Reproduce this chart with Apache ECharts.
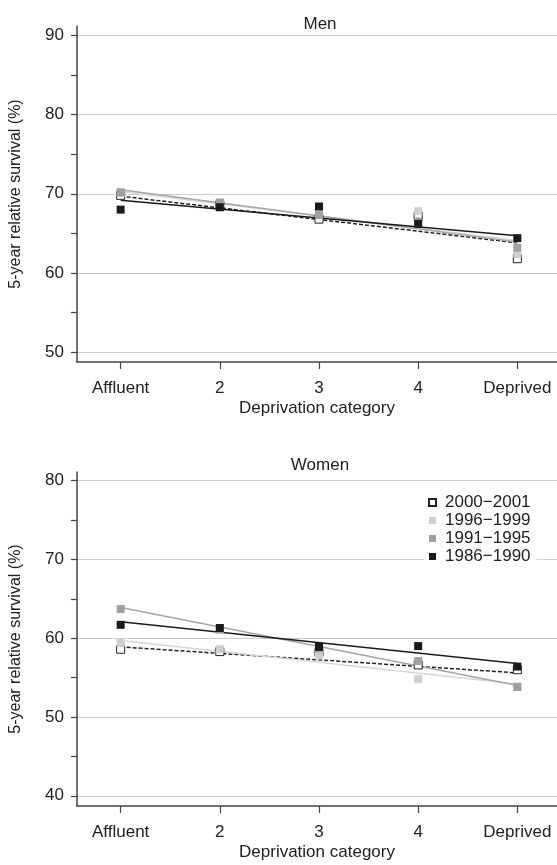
<!DOCTYPE html>
<html><head><meta charset="utf-8">
<script src="https://cdn.jsdelivr.net/npm/echarts@6/dist/echarts.min.js"></script>
<style>html,body{margin:0;padding:0;background:#fff}#c{width:557px;height:865px}</style>
</head><body><div id="c"></div>
<script>
// ---- data ----
const categories = ['Affluent', '2', '3', '4', 'Deprived'];
const categoryPos = [1, 2, 3, 4, 5];
const periods = ['2000\u22122001', '1996\u22121999', '1991\u22121995', '1986\u22121990'];
const yTicksMen = [50, 60, 70, 80, 90];
const yMinorMen = [55, 65, 75, 85];
const yTicksWomen = [40, 50, 60, 70, 80];
const yMinorWomen = [45, 55, 65, 75];

// Men: 5-year relative survival (%) by deprivation category
const men2000 = [69.8, 68.6, 66.8, 67.2, 61.8];
const men1996 = [70.1, 68.8, 67.7, 67.8, 62.4];
const men1991 = [70.2, 68.9, 67.3, 66.5, 63.2];
const men1986 = [68.0, 68.3, 68.4, 66.2, 64.4];
// Men fitted trend lines [Affluent, Deprived]
const menTrend2000 = [69.7, 63.8];
const menTrend1996 = [70.3, 64.1];
const menTrend1991 = [70.5, 63.9];
const menTrend1986 = [69.2, 64.7];

// Women
const women2000 = [58.6, 58.3, 58.2, 56.6, 56.0];
const women1996 = [59.4, 58.6, 57.8, 54.8, 53.9];
const women1991 = [63.7, 61.1, 58.7, 57.1, 53.8];
const women1986 = [61.7, 61.3, 58.9, 59.0, 56.4];
// Women fitted trend lines [Affluent, Deprived]
const womenTrend2000 = [58.9, 55.6];
const womenTrend1996 = [59.7, 54.2];
const womenTrend1991 = [63.9, 54.0];
const womenTrend1986 = [62.1, 56.8];

// ---- styles ----
const TXT = '#222';
const AX = '#444';
const FONT = 'Liberation Sans, Arial, sans-serif';
const styles = [
  { fill: '#ffffff', border: '#222', bw: 1, line: '#222', type: [4, 2] },
  { fill: '#cfcfcf', border: '#cfcfcf', bw: 0, line: '#d6d6d6', type: 'solid' },
  { fill: '#a0a0a0', border: '#a0a0a0', bw: 0, line: '#a6a6a6', type: 'solid' },
  { fill: '#1a1a1a', border: '#1a1a1a', bw: 0, line: '#1a1a1a', type: 'solid' }
];

const menData = [men2000, men1996, men1991, men1986];
const menTrends = [menTrend2000, menTrend1996, menTrend1991, menTrend1986];
const womenData = [women2000, women1996, women1991, women1986];
const womenTrends = [womenTrend2000, womenTrend1996, womenTrend1991, womenTrend1986];

function buildSeries(data, trends, gi) {
  const out = [];
  trends.forEach((t, i) => {
    out.push({
      type: 'line', name: periods[i] + ' trend', xAxisIndex: gi, yAxisIndex: gi * 2,
      data: [[categoryPos[0], t[0]], [categoryPos[4], t[1]]],
      showSymbol: false, silent: true, z: 2,
      lineStyle: { color: styles[i].line, width: 1.5, type: styles[i].type }
    });
  });
  data.forEach((d, i) => {
    out.push({
      type: 'scatter', name: periods[i], xAxisIndex: gi, yAxisIndex: gi * 2,
      data: categoryPos.map((x, j) => [x, d[j]]),
      symbol: 'rect', symbolSize: 8, z: 3,
      itemStyle: { color: styles[i].fill, borderColor: styles[i].border, borderWidth: styles[i].bw, opacity: 1 }
    });
  });
  return out;
}

function xAxis(gi) {
  return {
    type: 'value', gridIndex: gi, min: 0.56, max: 5.4,
    axisLine: { show: true, onZero: false, lineStyle: { color: AX, width: 1.5 } },
    axisTick: { show: true, customValues: categoryPos, length: 7, lineStyle: { color: AX, width: 1.2 } },
    axisLabel: { customValues: categoryPos, formatter: v => categories[Math.round(v) - 1], margin: 18,
      fontSize: 17, color: TXT, fontFamily: FONT },
    splitLine: { show: false },
    name: 'Deprivation category', nameLocation: 'middle', nameGap: 38,
    nameTextStyle: { fontSize: 17, color: TXT, fontFamily: FONT }
  };
}
function yAxisMain(gi, min, max, ticks) {
  return {
    type: 'value', gridIndex: gi, min: min, max: max,
    axisLine: { show: true, onZero: false, lineStyle: { color: AX, width: 1.5 } },
    axisTick: { show: true, customValues: ticks, length: 6, lineStyle: { color: AX, width: 1.2 } },
    axisLabel: { customValues: ticks, margin: 13, fontSize: 17, color: TXT, fontFamily: FONT },
    splitLine: { show: true, lineStyle: { color: '#cccccc', width: 1 } },
    name: '5-year relative survival (%)', nameLocation: 'middle', nameGap: 53, nameRotate: 90,
    nameTextStyle: { fontSize: 16, color: TXT, fontFamily: FONT }
  };
}
function yAxisMinor(gi, min, max, ticks) {
  return {
    type: 'value', gridIndex: gi, min: min, max: max, position: 'left', offset: 0,
    axisLine: { show: false, onZero: false },
    axisTick: { show: true, customValues: ticks, length: 6, lineStyle: { color: AX, width: 1.2 } },
    axisLabel: { show: false },
    splitLine: { show: false }
  };
}

const chart = echarts.init(document.getElementById('c'), null, { renderer: 'canvas' });
chart.setOption({
  animation: false,
  backgroundColor: '#fff',
  textStyle: { fontFamily: FONT },
  title: [
    { text: 'Men', left: 315, textAlign: 'center', top: 11,
      textStyle: { fontSize: 17, fontWeight: 'normal', color: TXT, fontFamily: FONT } },
    { text: 'Women', left: 315, textAlign: 'center', top: 452,
      textStyle: { fontSize: 17, fontWeight: 'normal', color: TXT, fontFamily: FONT } }
  ],
  legend: {
    data: periods, orient: 'vertical', left: 424, top: 492,
    icon: 'rect', itemWidth: 7, itemHeight: 7, itemGap: 1,
    backgroundColor: '#fff', padding: [2, 6, 2, 4],
    textStyle: { fontSize: 17, color: TXT, fontFamily: FONT, padding: [0, 0, 0, 4] },
    selectedMode: false
  },
  grid: [
    { left: 73, top: 26, width: 484, height: 336 },
    { left: 73, top: 472, width: 484, height: 334 }
  ],
  xAxis: [xAxis(0), xAxis(1)],
  yAxis: [
    yAxisMain(0, 48.75, 91.2, yTicksMen), yAxisMinor(0, 48.75, 91.2, yMinorMen),
    yAxisMain(1, 38.7, 81.1, yTicksWomen), yAxisMinor(1, 38.7, 81.1, yMinorWomen)
  ],
  series: [].concat(buildSeries(menData, menTrends, 0), buildSeries(womenData, womenTrends, 1))
});
</script>
</body></html>
